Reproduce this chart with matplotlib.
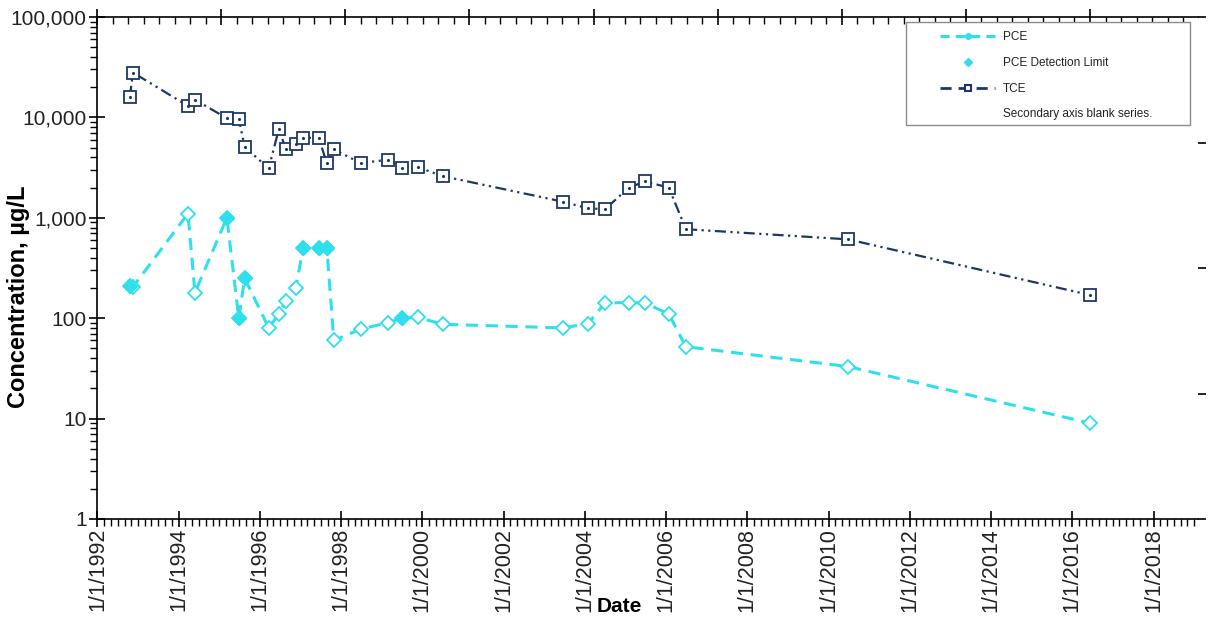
import numpy as np
import pandas as pd
import matplotlib
matplotlib.use('Agg')
import matplotlib.pyplot as plt
import matplotlib.dates as mdates
import matplotlib.ticker as mticker
from matplotlib.lines import Line2D
from matplotlib.patches import Rectangle

plt.rcParams['font.family'] = ['Liberation Sans', 'DejaVu Sans']

# sampling dates (shared by both analytes)
dates = ['1992-10-19', '1992-11-15', '1994-03-25', '1994-05-27', '1995-03-10',
         '1995-06-25', '1995-08-17', '1996-03-20', '1996-06-20', '1996-08-21',
         '1996-11-20', '1997-01-22', '1997-06-14', '1997-08-25', '1997-10-27',
         '1998-06-27', '1999-02-25', '1999-07-01', '1999-11-20', '2000-07-01',
         '2003-06-15', '2004-01-29', '2004-07-01', '2005-02-01', '2005-06-25',
         '2006-01-25', '2006-06-28', '2010-06-25', '2016-06-10']

tce = [16000, 28000, 13000, 15000, 9800, 9700, 5100, 3100, 7700, 4800,
       5400, 6300, 6200, 3500, 4800, 3500, 3800, 3100, 3200, 2600,
       1450, 1240, 1220, 2000, 2300, 2000, 770, 610, 170]

pce = [210, 205, 1100, 180, 1000, 100, 250, 80, 110, 150,
       200, 500, 500, 500, 60, 78, 90, 100, 102, 87,
       80, 88, 142, 143, 142, 110, 52, 33, 9]

# True = reported at detection limit (non-detect)
pce_nd = [True, False, False, False, True, True, True, False, False, False,
          False, True, True, True, False, False, False, True, False, False,
          False, False, False, False, False, False, False, False, False]

pce_color = '#2fe0ec'
tce_color = '#1c3766'

fig = plt.figure(figsize=(12.1, 6.21), dpi=100)
ax = fig.add_axes([97/1210, 1 - 519/621, 1101/1210, 502/621])

d = pd.to_datetime(dates)
pce_a = np.array(pce, dtype=float)
nd = np.array(pce_nd)

ax.plot(d, pce_a, color=pce_color, lw=2.2, dashes=(4, 2.5), marker='D', ms=7,
        mfc='white', mec=pce_color, mew=1.3, zorder=3)
ax.plot(d[nd], pce_a[nd], ls='none', marker='D', ms=7, mfc=pce_color,
        mec=pce_color, zorder=4)
ax.plot(d, tce, color=tce_color, lw=1.6, dashes=(5, 2, 1, 2, 1, 2), marker='s',
        ms=9, mfc='white', mec=tce_color, mew=1.3, zorder=3)
ax.plot(d, tce, ls='none', marker='.', ms=2.5, color=tce_color, zorder=4)

# y axis
ax.set_yscale('log')
ax.set_ylim(1, 100000)
ax.yaxis.set_major_locator(mticker.LogLocator(base=10))
ax.yaxis.set_major_formatter(mticker.FuncFormatter(lambda v, p: f'{v:,.0f}'))
ax.yaxis.set_minor_locator(mticker.LogLocator(base=10, subs=np.arange(2, 10)))
ax.yaxis.set_minor_formatter(mticker.NullFormatter())

# x axis
ax.set_xlim(pd.Timestamp('1991-12-28'), pd.Timestamp('2019-02-05'))
ax.xaxis.set_major_locator(mdates.YearLocator(2))
ax.xaxis.set_minor_locator(mdates.MonthLocator(bymonth=[1, 3, 5, 7, 9, 11]))

def fmt_date(v, p):
    dt = mdates.num2date(v)
    return f'{dt.month}/{dt.day}/{dt.year}'
ax.xaxis.set_major_formatter(mticker.FuncFormatter(fmt_date))

ax.spines['right'].set_visible(False)
for s in ['left', 'bottom', 'top']:
    ax.spines[s].set_linewidth(1.2)

ax.tick_params(axis='y', which='major', direction='inout', length=11, width=1.2,
               labelsize=15, pad=2, colors='black')
ax.tick_params(axis='y', which='minor', direction='out', length=5, width=1)
ax.tick_params(axis='x', which='major', direction='inout', length=11, width=1.2,
               labelsize=15.5, labelrotation=90, pad=1)
ax.tick_params(axis='x', which='minor', direction='out', length=5, width=1)
for lbl in ax.get_xticklabels() + ax.get_yticklabels():
    lbl.set_color('#222222')

# secondary axes (blank series): ticks only
ax_top = ax.twiny()
ax_top.set_xlim(0, 8.87)
ax_top.xaxis.set_major_locator(mticker.MultipleLocator(1))
ax_top.xaxis.set_minor_locator(mticker.MultipleLocator(0.125))
ax_top.tick_params(axis='x', which='major', direction='inout', length=11, width=1.2,
                   labeltop=False)
ax_top.tick_params(axis='x', which='minor', direction='in', length=5, width=1)
for s in ax_top.spines.values():
    s.set_visible(False)

ax_r = ax.twinx()
ax_r.set_ylim(0, 4)
ax_r.set_yticks(range(5))
ax_r.tick_params(axis='y', direction='out', length=6, width=1.2, labelright=False)
for s in ax_r.spines.values():
    s.set_visible(False)

# axis titles
fig.text(619/1210, 1 - 606/621, 'Date', ha='center', va='center',
         fontsize=15, fontweight='bold',
         family=['Liberation Sans Narrow', 'Liberation Sans', 'DejaVu Sans'])
fig.text(19/1210, 1 - 297/621, 'Concentration, µg/L', ha='center', va='center',
         rotation=90, fontsize=17, fontweight='bold')

# legend
frame = Rectangle((0.7348, 0.7849), 0.258, 0.2052, transform=ax.transAxes,
                  facecolor='white', edgecolor='#8c8c8c', lw=1, zorder=5)
ax_r.add_patch(frame)
handles = [
    Line2D([], [], color=pce_color, lw=2.2, dashes=(3, 2), marker='o', ms=4,
           mfc=pce_color, mec=pce_color),
    Line2D([], [], ls='none', marker='D', ms=4.5, color=pce_color),
    Line2D([], [], color=tce_color, lw=2, dashes=(4, 2.5), marker='s', ms=5,
           mfc='white', mec=tce_color, mew=1.5),
    Line2D([], [], ls='none'),
]
labels = ['PCE', 'PCE Detection Limit', 'TCE', 'Secondary axis blank series.']
leg = ax_r.legend(handles, labels, loc='upper left', bbox_to_anchor=(0.7657, 0.972),
                  frameon=False, fontsize=8.5, handlelength=4.66, handletextpad=0.68,
                  labelspacing=1.17, borderpad=0, borderaxespad=0)
leg.set_zorder(6)
for t in leg.get_texts():
    t.set_color('#222222')

fig.savefig('out.png', dpi=100)
